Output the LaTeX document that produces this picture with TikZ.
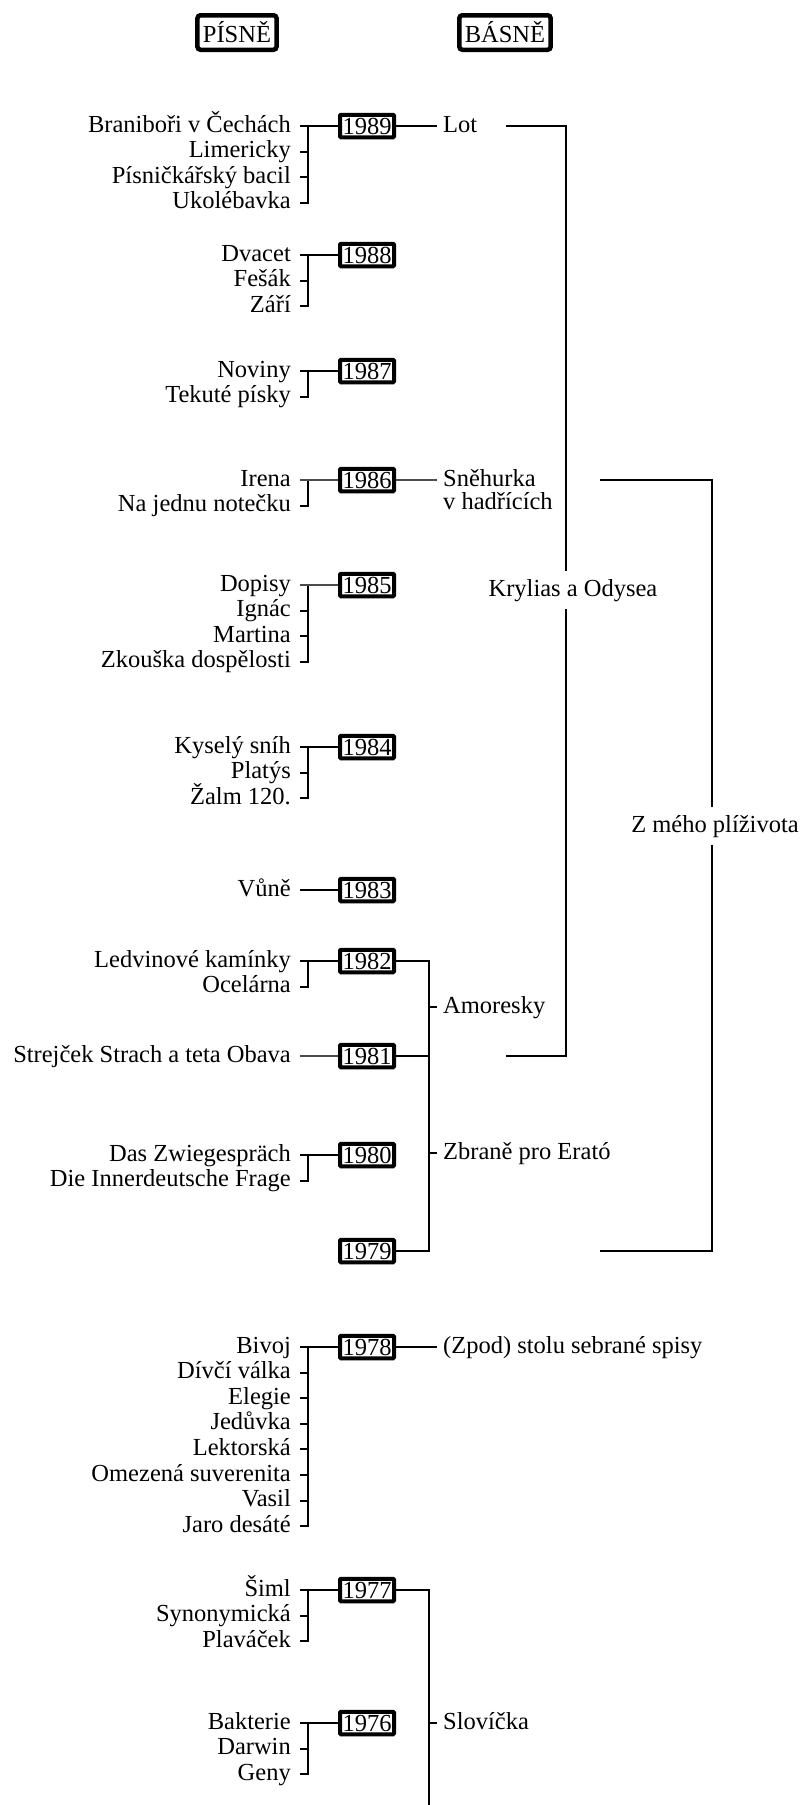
\documentclass[tikz,border=0pt]{standalone}
\usepackage{fontspec}
\setmainfont{Liberation Serif}
\usetikzlibrary{backgrounds}
\newcommand\songgroup[4]{%
  \foreach \stxt [count=\i from 0] in {#3}{%
    \node[songtxt] (#1s\i) at (291,#2+25.6*\i) {\stxt};
    \ifnum\i>0
      \pgfmathtruncatemacro\j{\i-1}
      \draw[songline] ([xshift=9pt]#1s\i.east) -- ([xshift=17pt]#1s\i.east) -- ([xshift=17pt]#1s\j.east);
    \fi
  }%
  \draw[#4] ([xshift=9pt]#1s0.east) -- (#1.west);
}
\begin{document}
\begin{tikzpicture}[x=1pt,y=-1pt,
  every node/.style={font=\fontsize{24.5}{29}\selectfont},
  songtxt/.style={anchor=east, inner sep=0pt, text height=17pt, text depth=5pt},
  poemtxt/.style={anchor=west, inner sep=0pt, text height=17pt, text depth=5pt},
  yearbox/.style={draw, line width=4pt, fill=white, inner xsep=2.5pt, inner ysep=3pt, text height=16.5pt, text depth=0pt, rounded corners=1pt},
  headbox/.style={draw, line width=4.5pt, rounded corners=3pt, inner xsep=5.5pt, minimum height=34.5pt},
  tlline/.style={line width=4pt},
  songline/.style={line width=2pt},
  thinln/.style={line width=1.3pt, black!70},
  brkline/.style={line width=1.5pt},
  grptxt/.style={anchor=center, inner xsep=0pt, inner ysep=7.5pt, text height=17pt, text depth=5pt}
]
\fill[white] (0,0) rectangle (801,1805);
\useasboundingbox (0,0) rectangle (801,1805);

% headers
\node[headbox] (hp) at (237,32.5) {PÍSNĚ};
\node[headbox] (hb) at (505,32.5) {BÁSNĚ};

% years
\node[yearbox] (y1989) at (367,126) {1989};
\node[yearbox] (y1988) at (367,255) {1988};
\node[yearbox] (y1987) at (367,371) {1987};
\node[yearbox] (y1986) at (367,480) {1986};
\node[yearbox] (y1985) at (367,585) {1985};
\node[yearbox] (y1984) at (367,747) {1984};
\node[yearbox] (y1983) at (367,890) {1983};
\node[yearbox] (y1982) at (367,961) {1982};
\node[yearbox] (y1981) at (367,1056) {1981};
\node[yearbox] (y1980) at (367,1155) {1980};
\node[yearbox] (y1979) at (367,1251) {1979};
\node[yearbox] (y1978) at (367,1347) {1978};
\node[yearbox] (y1977) at (367,1590) {1977};
\node[yearbox] (y1976) at (367,1723) {1976};
\coordinate (tlend) at (367,1805);
\begin{scope}[on background layer]
  \draw[tlline] (y1989.center) -- (tlend);
\end{scope}

% songs
\songgroup{y1989}{126}{Braniboři v Čechách,Limericky,Písničkářský bacil,Ukolébavka}{songline}
\songgroup{y1988}{255}{Dvacet,Fešák,Září}{songline}
\songgroup{y1987}{371}{Noviny,Tekuté písky}{songline}
\songgroup{y1986}{480}{Irena,Na jednu notečku}{thinln}
\songgroup{y1985}{585}{Dopisy,Ignác,Martina,Zkouška dospělosti}{thinln}
\songgroup{y1984}{747}{Kyselý sníh,Platýs,Žalm 120.}{songline}
\songgroup{y1983}{890}{Vůně}{songline}
\songgroup{y1982}{961}{Ledvinové kamínky,Ocelárna}{songline}
\songgroup{y1981}{1056}{Strejček Strach a teta Obava}{thinln}
\songgroup{y1980}{1155}{Das Zwiegespräch,Die Innerdeutsche Frage}{songline}
\songgroup{y1978}{1347}{Bivoj,Dívčí válka,Elegie,Jedůvka,Lektorská,Omezená suverenita,Vasil,Jaro desáté}{songline}
\songgroup{y1977}{1590}{Šiml,Synonymická,Plaváček}{songline}
\songgroup{y1976}{1723}{Bakterie,Darwin,Geny}{songline}

% poems
\node[poemtxt] (lot) at (443,126) {Lot};
\draw[songline] (y1989.east) -- ([xshift=-6pt]lot.west);
\node[poemtxt] (sneh) at (443,480) {Sněhurka};
\node[poemtxt] (sneh2) at (443,503) {v hadřících};
\draw[thinln] (y1986.east) -- ([xshift=-6pt]sneh.west);
\node[poemtxt] (zpod) at (443,1347) {(Zpod) stolu sebrané spisy};
\draw[songline] (y1978.east) -- ([xshift=-6pt]zpod.west);

\node[poemtxt] (amo) at (443,1007) {Amoresky};
\node[poemtxt] (zbr) at (443,1153) {Zbraně pro Erató};
\coordinate (amobar) at ([xshift=-14pt]amo.west);
\coordinate (zbrbar) at ([xshift=-14pt]zbr.west);
\draw[brkline] (y1982.east) -| (amobar) -- (zbrbar) |- (y1979.east);
\draw[brkline] (y1981.east) -- (amobar |- y1981.east);
\draw[brkline] (amobar) -- ([xshift=-6pt]amo.west);
\draw[brkline] (zbrbar) -- ([xshift=-6pt]zbr.west);

\node[poemtxt] (slov) at (443,1723) {Slovíčka};
\coordinate (slovbar) at ([xshift=-14pt]slov.west);
\coordinate (slovend) at (429,1805);
\draw[brkline] (y1977.east) -| (slovend);
\draw[brkline] (slovbar) -- ([xshift=-6pt]slov.west);

% collections
\node[grptxt] (kao) at (573,590) {Krylias a Odysea};
\coordinate (kaoA) at (506,126);
\coordinate (kaoB) at (506,1056);
\draw[brkline] (kaoA) -| ([xshift=-7pt]kao.north);
\draw[brkline] ([xshift=-7pt]kao.south) |- (kaoB);

\node[grptxt] (zmp) at (715,826) {Z mého plíživota};
\coordinate (zmpA) at (600,480);
\coordinate (zmpB) at (600,1251);
\draw[brkline] (zmpA) -| ([xshift=-3pt]zmp.north);
\draw[brkline] ([xshift=-3pt]zmp.south) |- (zmpB);
\end{tikzpicture}
\end{document}
